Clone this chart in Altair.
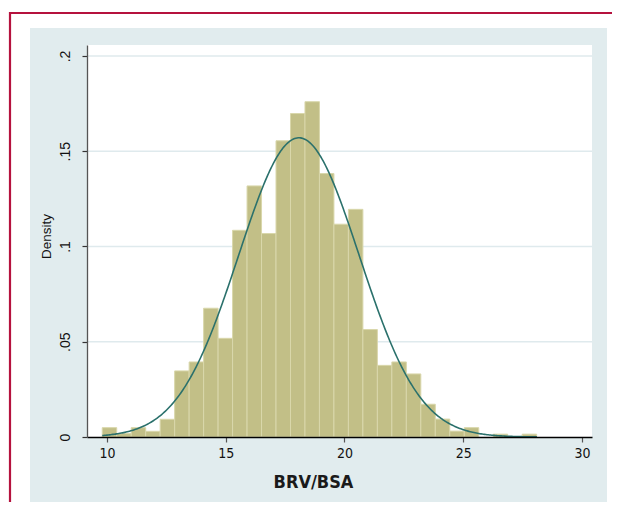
import altair as alt
import pandas as pd

# ---- data ----
bin_start = 9.80
bin_width = 0.6097
densities = [0.0049, 0.0018, 0.0049, 0.0030, 0.0093, 0.0347, 0.0394, 0.0676, 0.0518, 0.1085,
             0.1318, 0.1068, 0.1555, 0.1698, 0.1760, 0.1383, 0.1117, 0.1195, 0.0564, 0.0376,
             0.0394, 0.0331, 0.0172, 0.0094, 0.0031, 0.0049, 0.0, 0.0015, 0.0, 0.0015]
normal_mean = 18.08
normal_sd = 2.54
x_ticks = [10, 15, 20, 25, 30]
y_ticks = [0, 0.05, 0.1, 0.15, 0.2]
x_title = "BRV/BSA"
y_title = "Density"

# ---- layout ----
W, H = 505, 392
PANEL = "#e1ecee"
GRID = "#dfeaed"
BAR_FILL = "#c2bf87"
BAR_EDGE = "#d9d7ab"
CURVE = "#2b716c"
FRAME = "#b5123e"
NARROW = "DejaVu Sans Condensed, sans-serif"
ARIAL = "Liberation Sans, Arial, sans-serif"

bars_df = pd.DataFrame({
    "x0": [bin_start + i * bin_width for i in range(len(densities))],
    "x1": [bin_start + (i + 1) * bin_width for i in range(len(densities))],
    "d": densities,
})
grid_df = pd.DataFrame({"g": y_ticks})

xs = alt.Scale(domain=[9.158, 30.421], nice=False, zero=False)
ys = alt.Scale(domain=[0, 0.20577], nice=False, zero=True)

x_axis = alt.Axis(
    values=x_ticks, format="d", grid=False, zindex=1,
    labelFont=NARROW, labelFontSize=14, labelColor="#111111", labelPadding=4,
    labelBaseline="top",
    tickSize=5, tickColor="#555555", tickWidth=1.2,
    domainColor="#000000", domainWidth=1.3,
    title=x_title, titleFont=NARROW, titleFontSize=18, titleFontWeight="bold",
    titleColor="#1a1a1a", titleX=226, titleY=45, titleAlign="center",
    titleBaseline="middle", titleAnchor="start",
)
y_axis = alt.Axis(
    values=y_ticks, grid=False, zindex=1,
    labelExpr="datum.value == 0 ? '0' : replace(format(datum.value, '.2~f'), '0.', '.')",
    labelAngle=270, labelAlign="center", labelBaseline="bottom",
    labelFont=ARIAL, labelFontSize=14, labelColor="#111111", labelPadding=10,
    tickSize=5, tickColor="#333333", tickWidth=1.2,
    domainColor="#555555", domainWidth=1.3,
    title=y_title, titleFont=ARIAL, titleFontSize=13.5, titleFontWeight="normal",
    titleColor="#111111", titleAngle=270, titleX=-41, titleY=191,
    titleAlign="center", titleBaseline="middle", titleAnchor="start",
)

one = alt.Data(values=[{}])

frame_h = alt.Chart(one).mark_rule(color=FRAME, strokeWidth=2.2).encode(
    x=alt.value(-78), x2=alt.value(540), y=alt.value(-32))
frame_v = alt.Chart(one).mark_rule(color=FRAME, strokeWidth=2.2).encode(
    x=alt.value(-77), y=alt.value(-33), y2=alt.value(470))
panel = alt.Chart(one).mark_rect(color=PANEL).encode(
    x=alt.value(-57), x2=alt.value(520), y=alt.value(-17), y2=alt.value(457))
plotbg = alt.Chart(one).mark_rect(color="white").encode(
    x=alt.value(0), x2=alt.value(W), y=alt.value(0), y2=alt.value(H))

grid = alt.Chart(grid_df).transform_filter("datum.g > 0").mark_rule(
    color=GRID, strokeWidth=1.3).encode(
    y=alt.Y("g:Q", scale=ys, axis=y_axis),
    x=alt.value(0), x2=alt.value(W))

bars = alt.Chart(bars_df).transform_filter("datum.d > 0").mark_rect(
    color=BAR_FILL, stroke=BAR_EDGE, strokeWidth=1).encode(
    x=alt.X("x0:Q", scale=xs, axis=x_axis),
    x2="x1:Q",
    y=alt.Y("d:Q", scale=ys, axis=y_axis),
    y2=alt.datum(0))

curve = alt.Chart(alt.sequence(start=bin_start, stop=bin_start + 30 * bin_width + 0.01,
                               step=0.05, as_="x")).transform_calculate(
    dens=f"densityNormal(datum.x, {normal_mean}, {normal_sd})"
).mark_line(color=CURVE, strokeWidth=1.6).encode(
    x=alt.X("x:Q", scale=xs, axis=x_axis),
    y=alt.Y("dens:Q", scale=ys, axis=y_axis))

chart = alt.layer(frame_h, frame_v, panel, plotbg, grid, bars, curve).properties(
    width=W, height=H,
    autosize=alt.AutoSizeParams(type="none"),
    padding={"left": 79, "top": 37, "right": 20, "bottom": 65},
    background="white",
).configure_view(stroke=None)

chart.save("out.html", embed_options={"renderer": "svg", "actions": False})
